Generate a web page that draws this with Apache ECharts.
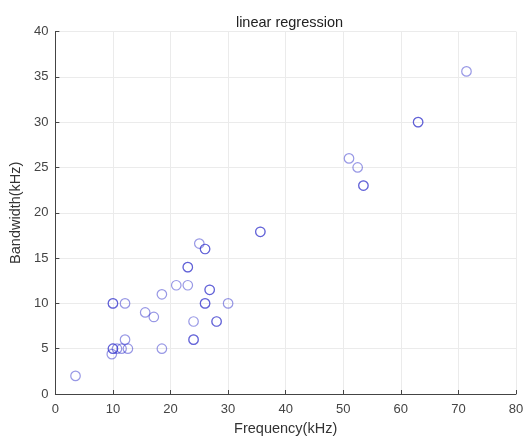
<!DOCTYPE html>
<html>
<head>
<meta charset="utf-8">
<script src="https://cdn.jsdelivr.net/npm/echarts@6/dist/echarts.min.js"></script>
<style>html,body{margin:0;padding:0;background:#fff}#c{width:529px;height:441px}</style>
</head>
<body>
<div id="c"></div>
<script>
var titleText = 'linear regression';
var xName = 'Frequency(kHz)';
var yName = 'Bandwidth(kHz)';
var freq = [3.5, 9.8, 10, 10, 10.7, 11.5, 12.6, 12.1, 10, 10, 12.1, 15.6, 17.1, 18.5, 18.5, 21, 23, 23, 23, 25, 26, 26, 26.8, 26.8, 26, 26, 24, 24, 24, 28, 28, 30, 35.6, 35.6, 51, 52.5, 53.5, 53.5, 63, 63, 71.4];
var bandwidth = [2, 4.4, 5, 5, 5, 5, 5, 6, 10, 10, 10, 9, 8.5, 11, 5, 12, 12, 14, 14, 16.6, 16, 16, 11.5, 11.5, 10, 10, 8, 6, 6, 8, 8, 10, 17.9, 17.9, 26, 25, 23, 23, 30, 30, 35.6];

var pts = freq.map(function (f, i) { return [f, bandwidth[i]]; });
var font = 'Liberation Sans, Arial, sans-serif';
var chart = echarts.init(document.getElementById('c'), null, {renderer: 'canvas'});
chart.setOption({
  animation: false,
  backgroundColor: '#fff',
  title: {
    text: titleText, left: 284.5, textAlign: 'center', top: 10,
    textStyle: {fontFamily: font, fontSize: 14.5, fontWeight: 'normal', color: '#222'}
  },
  grid: {left: 53, right: 13, top: 31.5, bottom: 46, containLabel: false},
  xAxis: {
    type: 'value', min: 0, max: 80, interval: 10,
    name: xName, nameLocation: 'middle', nameGap: 27,
    nameTextStyle: {fontFamily: font, fontSize: 14.5, color: '#333'},
    axisLine: {show: true, lineStyle: {color: '#444', width: 1}},
    axisTick: {show: true, inside: true, length: 4, lineStyle: {color: '#444'}},
    axisLabel: {fontFamily: font, fontSize: 13, color: '#444', margin: 9},
    splitLine: {show: true, lineStyle: {color: '#ebebeb', width: 1}}
  },
  yAxis: {
    type: 'value', min: 0, max: 40, interval: 5,
    name: yName, nameLocation: 'middle', nameGap: 26, nameRotate: 90,
    nameTextStyle: {fontFamily: font, fontSize: 14.5, color: '#333'},
    axisLine: {show: true, lineStyle: {color: '#444', width: 1}},
    axisTick: {show: true, inside: true, length: 4, lineStyle: {color: '#444'}},
    axisLabel: {fontFamily: font, fontSize: 13, color: '#444', margin: 7},
    splitLine: {show: true, lineStyle: {color: '#ebebeb', width: 1}}
  },
  series: [{
    type: 'scatter',
    data: pts,
    symbol: 'circle',
    symbolSize: 9.5,
    itemStyle: {color: 'rgba(0,0,0,0)', borderColor: 'rgba(40,40,200,0.6)', borderWidth: 1.2}
  }]
});
</script>
</body>
</html>
